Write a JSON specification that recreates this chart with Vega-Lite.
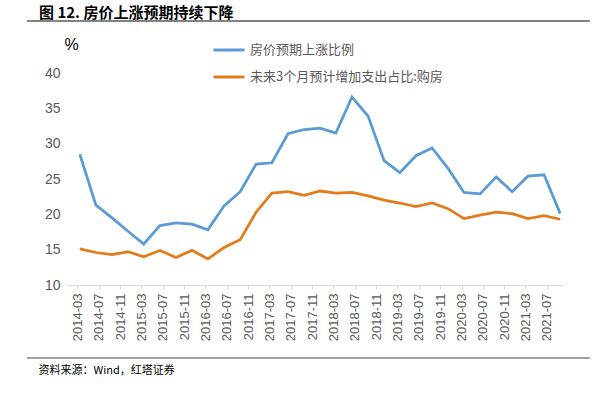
{
  "$schema": "https://vega.github.io/schema/vega-lite/v6.json",
  "width": 496,
  "height": 212,
  "autosize": {"type": "none"},
  "padding": {"left": 67, "top": 73, "right": 42, "bottom": 111},
  "background": "white",
  "config": {"view": {"stroke": null}, "axis": {"labelOverlap": false}},
  "title": {
    "text": "图 12. 房价上涨预期持续下降",
    "anchor": "start",
    "frame": "group",
    "dx": -28,
    "dy": 21,
    "offset": 20,
    "font": "Noto Sans CJK SC",
    "fontSize": 15,
    "fontWeight": "bold",
    "color": "#000000"
  },
  "datasets": {
    "main": [
      {"d": "2014-03-15", "s": "房价预期上涨比例", "v": 28.5},
      {"d": "2014-06-15", "s": "房价预期上涨比例", "v": 21.3},
      {"d": "2014-09-15", "s": "房价预期上涨比例", "v": 19.5},
      {"d": "2014-12-15", "s": "房价预期上涨比例", "v": 17.6},
      {"d": "2015-03-15", "s": "房价预期上涨比例", "v": 15.8},
      {"d": "2015-06-15", "s": "房价预期上涨比例", "v": 18.4},
      {"d": "2015-09-15", "s": "房价预期上涨比例", "v": 18.8},
      {"d": "2015-12-15", "s": "房价预期上涨比例", "v": 18.6},
      {"d": "2016-03-15", "s": "房价预期上涨比例", "v": 17.8},
      {"d": "2016-06-15", "s": "房价预期上涨比例", "v": 21.2},
      {"d": "2016-09-15", "s": "房价预期上涨比例", "v": 23.2},
      {"d": "2016-12-15", "s": "房价预期上涨比例", "v": 27.1},
      {"d": "2017-03-15", "s": "房价预期上涨比例", "v": 27.3},
      {"d": "2017-06-15", "s": "房价预期上涨比例", "v": 31.4},
      {"d": "2017-09-15", "s": "房价预期上涨比例", "v": 32.0},
      {"d": "2017-12-15", "s": "房价预期上涨比例", "v": 32.2},
      {"d": "2018-03-15", "s": "房价预期上涨比例", "v": 31.5},
      {"d": "2018-06-15", "s": "房价预期上涨比例", "v": 36.6},
      {"d": "2018-09-15", "s": "房价预期上涨比例", "v": 33.9},
      {"d": "2018-12-15", "s": "房价预期上涨比例", "v": 27.6},
      {"d": "2019-03-15", "s": "房价预期上涨比例", "v": 25.9},
      {"d": "2019-06-15", "s": "房价预期上涨比例", "v": 28.3},
      {"d": "2019-09-15", "s": "房价预期上涨比例", "v": 29.4},
      {"d": "2019-12-15", "s": "房价预期上涨比例", "v": 26.5},
      {"d": "2020-03-15", "s": "房价预期上涨比例", "v": 23.1},
      {"d": "2020-06-15", "s": "房价预期上涨比例", "v": 22.9},
      {"d": "2020-09-15", "s": "房价预期上涨比例", "v": 25.3},
      {"d": "2020-12-15", "s": "房价预期上涨比例", "v": 23.2},
      {"d": "2021-03-15", "s": "房价预期上涨比例", "v": 25.4},
      {"d": "2021-06-15", "s": "房价预期上涨比例", "v": 25.6},
      {"d": "2021-09-15", "s": "房价预期上涨比例", "v": 20.1},
      {"d": "2014-03-15", "s": "未来3个月预计增加支出占比:购房", "v": 15.1},
      {"d": "2014-06-15", "s": "未来3个月预计增加支出占比:购房", "v": 14.6},
      {"d": "2014-09-15", "s": "未来3个月预计增加支出占比:购房", "v": 14.3},
      {"d": "2014-12-15", "s": "未来3个月预计增加支出占比:购房", "v": 14.7},
      {"d": "2015-03-15", "s": "未来3个月预计增加支出占比:购房", "v": 14.0},
      {"d": "2015-06-15", "s": "未来3个月预计增加支出占比:购房", "v": 14.9},
      {"d": "2015-09-15", "s": "未来3个月预计增加支出占比:购房", "v": 13.9},
      {"d": "2015-12-15", "s": "未来3个月预计增加支出占比:购房", "v": 14.9},
      {"d": "2016-03-15", "s": "未来3个月预计增加支出占比:购房", "v": 13.7},
      {"d": "2016-06-15", "s": "未来3个月预计增加支出占比:购房", "v": 15.3},
      {"d": "2016-09-15", "s": "未来3个月预计增加支出占比:购房", "v": 16.4},
      {"d": "2016-12-15", "s": "未来3个月预计增加支出占比:购房", "v": 20.3},
      {"d": "2017-03-15", "s": "未来3个月预计增加支出占比:购房", "v": 23.0},
      {"d": "2017-06-15", "s": "未来3个月预计增加支出占比:购房", "v": 23.2},
      {"d": "2017-09-15", "s": "未来3个月预计增加支出占比:购房", "v": 22.7},
      {"d": "2017-12-15", "s": "未来3个月预计增加支出占比:购房", "v": 23.3},
      {"d": "2018-03-15", "s": "未来3个月预计增加支出占比:购房", "v": 23.0},
      {"d": "2018-06-15", "s": "未来3个月预计增加支出占比:购房", "v": 23.1},
      {"d": "2018-09-15", "s": "未来3个月预计增加支出占比:购房", "v": 22.6},
      {"d": "2018-12-15", "s": "未来3个月预计增加支出占比:购房", "v": 22.0},
      {"d": "2019-03-15", "s": "未来3个月预计增加支出占比:购房", "v": 21.6},
      {"d": "2019-06-15", "s": "未来3个月预计增加支出占比:购房", "v": 21.1},
      {"d": "2019-09-15", "s": "未来3个月预计增加支出占比:购房", "v": 21.6},
      {"d": "2019-12-15", "s": "未来3个月预计增加支出占比:购房", "v": 20.8},
      {"d": "2020-03-15", "s": "未来3个月预计增加支出占比:购房", "v": 19.4},
      {"d": "2020-06-15", "s": "未来3个月预计增加支出占比:购房", "v": 19.9},
      {"d": "2020-09-15", "s": "未来3个月预计增加支出占比:购房", "v": 20.3},
      {"d": "2020-12-15", "s": "未来3个月预计增加支出占比:购房", "v": 20.1},
      {"d": "2021-03-15", "s": "未来3个月预计增加支出占比:购房", "v": 19.4},
      {"d": "2021-06-15", "s": "未来3个月预计增加支出占比:购房", "v": 19.8},
      {"d": "2021-09-15", "s": "未来3个月预计增加支出占比:购房", "v": 19.3}
    ]
  },
  "layer": [
    {
      "data": {"name": "main"},
      "mark": {"type": "line", "strokeWidth": 2.75, "clip": false},
      "encoding": {
        "x": {
          "field": "d",
          "type": "temporal",
          "scale": {"domain": [{"year": 2014, "month": 1, "date": 1}, {"year": 2021, "month": 10, "date": 1}]},
          "axis": {
            "values": [
              {"year": 2014, "month": 3, "date": 1}, {"year": 2014, "month": 7, "date": 1}, {"year": 2014, "month": 11, "date": 1},
              {"year": 2015, "month": 3, "date": 1}, {"year": 2015, "month": 7, "date": 1}, {"year": 2015, "month": 11, "date": 1},
              {"year": 2016, "month": 3, "date": 1}, {"year": 2016, "month": 7, "date": 1}, {"year": 2016, "month": 11, "date": 1},
              {"year": 2017, "month": 3, "date": 1}, {"year": 2017, "month": 7, "date": 1}, {"year": 2017, "month": 11, "date": 1},
              {"year": 2018, "month": 3, "date": 1}, {"year": 2018, "month": 7, "date": 1}, {"year": 2018, "month": 11, "date": 1},
              {"year": 2019, "month": 3, "date": 1}, {"year": 2019, "month": 7, "date": 1}, {"year": 2019, "month": 11, "date": 1},
              {"year": 2020, "month": 3, "date": 1}, {"year": 2020, "month": 7, "date": 1}, {"year": 2020, "month": 11, "date": 1},
              {"year": 2021, "month": 3, "date": 1}, {"year": 2021, "month": 7, "date": 1}
            ],
            "tickCount": 40,
            "format": "%Y-%m",
            "labelAngle": 270,
            "labelAlign": "right",
            "labelBaseline": "middle",
            "labelFont": "Liberation Sans",
            "labelFontSize": 13,
            "labelColor": "#595959",
            "labelPadding": 4,
            "labelOverlap": false,
            "labelFlush": false,
            "grid": false,
            "domainColor": "#D9D9D9",
            "tickColor": "#D9D9D9",
            "tickSize": 4,
            "title": "资料来源：Wind，红塔证券",
            "titleX": -29,
            "titleY": 85,
            "titleAlign": "left",
            "titleBaseline": "middle",
            "titleFont": "Noto Sans CJK SC",
            "titleFontSize": 11,
            "titleFontWeight": "normal",
            "titleColor": "#000000"
          }
        },
        "y": {
          "field": "v",
          "type": "quantitative",
          "scale": {"domain": [10, 40], "nice": false, "zero": false},
          "axis": {
            "values": [10, 15, 20, 25, 30, 35, 40],
            "tickCount": 10,
            "labelOverlap": false,
            "grid": false,
            "domain": false,
            "ticks": false,
            "labelFont": "Liberation Sans",
            "labelFontSize": 14,
            "labelColor": "#595959",
            "labelPadding": 7,
            "title": "%",
            "titleAngle": 0,
            "titleX": -3,
            "titleY": -29,
            "titleAlign": "left",
            "titleBaseline": "middle",
            "titleFont": "Liberation Sans",
            "titleFontSize": 16,
            "titleFontWeight": "normal",
            "titleColor": "#000000"
          }
        },
        "color": {
          "field": "s",
          "type": "nominal",
          "scale": {
            "domain": ["房价预期上涨比例", "未来3个月预计增加支出占比:购房"],
            "range": ["#5B9BD5", "#E27C1A"]
          },
          "legend": {
            "title": null,
            "orient": "none",
            "legendX": 145,
            "legendY": -40,
            "direction": "vertical",
            "symbolType": "stroke",
            "symbolSize": 961,
            "symbolStrokeWidth": 3,
            "labelFont": "Noto Sans CJK SC",
            "labelFontSize": 13,
            "labelColor": "#595959",
            "labelOffset": 4,
            "labelLimit": 0,
            "rowPadding": 3,
            "padding": 0
          }
        }
      }
    },
    {
      "data": {"values": [{}]},
      "mark": {"type": "rule", "color": "#595959", "strokeWidth": 1.5, "clip": false},
      "encoding": {
        "x": {"datum": {"year": 2013, "month": 5, "date": 18}, "type": "temporal"},
        "x2": {"datum": {"year": 2022, "month": 3, "date": 3}},
        "y": {"datum": 47.36, "type": "quantitative"}
      }
    },
    {
      "data": {"values": [{}]},
      "mark": {"type": "rule", "color": "#7F7F7F", "strokeWidth": 1.5, "clip": false},
      "encoding": {
        "x": {"datum": {"year": 2013, "month": 5, "date": 18}, "type": "temporal"},
        "x2": {"datum": {"year": 2022, "month": 3, "date": 3}},
        "y": {"datum": -0.33, "type": "quantitative"}
      }
    }
  ]
}
